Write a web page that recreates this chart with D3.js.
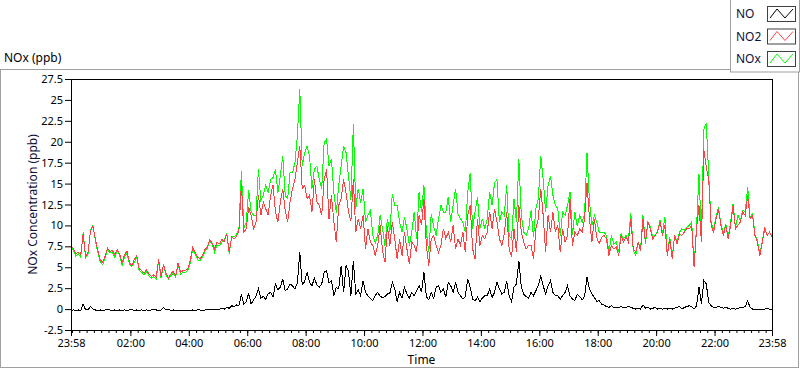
<!DOCTYPE html>
<html>
<head>
<meta charset="utf-8">
<script src="https://cdn.jsdelivr.net/npm/d3@7"></script>
<style>
body{margin:0;background:#fff}
svg{display:block;font-family:"Noto Sans",sans-serif}
</style>
</head>
<body>
<svg id="chart" width="800" height="369"></svg>
<script>
// 5-minute readings, 23:58 -> 23:58 (289 points)
const no2 = [
7.6,7.2,6.6,6.8,6.5,9.0,6.3,6.8,9.3,9.9,
8.4,7.0,5.9,5.6,6.3,7.3,6.9,7.0,6.5,7.1,
6.6,5.5,6.5,6.9,5.6,5.2,5.9,6.4,4.8,4.6,
4.3,4.7,4.2,3.9,4.1,3.8,6.0,3.9,5.3,4.3,
3.7,4.2,4.5,4.0,5.5,4.4,4.6,4.6,4.8,5.8,
7.4,6.8,6.2,6.0,6.4,7.1,7.4,8.3,
7.9,7.2,8.0,7.8,8.3,8.1,9.0,6.8,8.6,8.4,
8.7,9.4,15.0,9.2,9.6,12.2,11.2,9.6,10.4,13.6,
11.2,12.8,12.0,11.2,13.6,14.8,11.6,10.4,12.8,14.4,
11.8,10.4,12.8,14.4,15.5,17.5,19.5,14.4,14.8,13.2,
13.6,11.6,15.5,12.8,12.4,11.2,15.5,16.7,10.8,13.6,
10.4,8.0,12.4,13.2,15.5,13.9,11.6,10.5,
15.5,9.2,10.8,9.6,11.2,7.2,9.6,8.0,7.6,6.4,
7.6,10.0,7.0,5.6,9.9,7.6,10.4,8.4,6.0,8.4,
6.4,9.2,7.2,5.4,8.0,7.6,6.8,11.2,10.0,13.2,
7.6,5.2,8.4,8.8,7.6,6.8,7.6,9.6,8.4,9.2,
8.0,10.0,7.2,8.4,7.6,9.2,6.8,11.2,12.4,7.2,
6.0,10.8,7.6,8.8,8.4,9.2,11.6,
9.6,12.0,10.4,8.4,7.6,9.0,11.6,7.2,6.2,9.6,
6.8,12.4,9.2,8.0,7.2,7.6,7.6,6.0,9.6,10.8,
14.4,11.2,6.8,11.2,9.2,11.6,9.2,10.0,6.8,9.6,
8.0,8.8,13.2,7.6,9.2,8.8,9.6,9.2,10.8,15.1,
10.8,8.0,10.8,8.6,7.8,8.6,8.8,8.4,6.4,7.6,
7.2,7.4,6.4,8.8,8.0,8.6,8.0,10.8,
7.2,6.8,8.0,7.0,10.8,8.0,10.4,9.6,8.4,8.8,
9.2,10.4,8.8,10.0,6.4,8.4,6.0,8.8,7.8,9.0,
8.8,9.2,9.6,9.6,10.0,5.0,9.6,12.4,8.0,19.1,
17.0,15.5,10.0,9.2,10.8,12.0,10.0,8.8,10.0,8.4,
10.0,12.4,9.6,10.0,10.4,11.6,11.2,13.6,10.8,11.2,
8.8,8.0,6.4,8.0,9.6,8.8,9.2,8.6
]

const nox = [
7.4,7.0,6.3,6.6,6.2,9.2,6.1,6.6,9.4,10.0,
8.2,6.8,5.7,5.3,6.1,7.2,6.7,6.8,6.2,7.0,
6.4,5.2,6.3,6.7,5.4,5.1,5.6,6.2,4.6,4.4,
4.1,4.5,4.0,3.7,3.9,3.6,5.8,3.7,5.4,4.1,
3.6,4.0,4.3,3.8,5.3,4.2,4.4,4.4,4.6,5.5,
7.2,6.6,5.9,5.8,6.2,6.9,7.3,8.1,
7.8,6.8,7.6,7.6,8.0,8.2,9.1,6.6,8.7,8.6,
8.9,9.6,16.5,9.7,10.4,14.2,11.6,11.2,11.2,16.7,
13.0,13.6,14.8,13.9,15.5,15.7,16.7,13.9,15.9,18.3,
13.6,13.2,16.3,16.3,17.5,20.7,26.3,17.1,18.7,19.5,
18.3,14.4,16.7,17.1,15.5,14.4,19.9,20.3,17.1,17.9,
13.9,11.5,14.8,17.1,19.5,18.7,15.9,13.0,
22.1,12.0,14.4,12.7,14.4,10.4,11.2,11.8,8.8,7.9,
8.8,11.2,9.6,7.6,10.8,9.2,13.8,12.4,12.4,10.4,
9.2,11.0,9.6,7.6,9.2,11.6,8.4,14.0,11.6,14.8,
9.2,6.8,11.4,9.9,8.8,10.8,12.4,11.6,11.6,13.4,
10.4,12.4,14.4,11.4,10.8,10.4,9.2,14.0,16.3,9.6,
11.6,13.4,9.6,10.8,9.6,10.8,14.0,
12.4,15.1,15.5,10.4,11.6,11.2,14.8,8.8,8.4,13.2,
10.4,17.9,11.2,9.2,8.8,9.6,11.8,8.6,12.0,13.2,
18.3,15.5,11.6,14.8,15.9,13.6,12.4,12.0,8.8,11.6,
11.2,12.4,14.0,8.8,11.6,9.9,11.2,10.4,11.4,18.7,
12.8,10.0,11.2,10.4,9.2,9.2,9.2,8.8,6.8,8.8,
7.8,8.0,6.8,9.0,8.4,8.8,8.2,11.5,
7.0,6.4,8.0,7.2,11.2,7.8,10.4,9.8,8.6,8.8,
9.4,10.6,9.0,11.0,6.6,8.6,6.2,8.8,8.0,9.2,
9.6,9.4,9.8,10.0,10.4,5.2,9.8,16.1,8.8,21.5,
22.2,16.0,10.2,9.6,11.0,12.2,10.2,9.0,10.2,8.6,
10.4,12.6,9.8,11.2,10.6,11.8,11.6,14.6,11.0,11.4,
8.9,8.2,6.6,8.0,9.8,8.8,9.2,8.8
]

const no = [
-0.2,-0.1,-0.2,-0.1,-0.2,0.6,-0.1,-0.1,0.3,0.0,
-0.1,-0.2,-0.1,-0.2,-0.1,0.0,-0.1,-0.2,-0.1,-0.2,
-0.1,-0.2,-0.1,-0.2,-0.1,0.0,-0.2,-0.1,-0.2,-0.1,
-0.2,-0.1,-0.2,-0.1,0.0,-0.1,-0.2,-0.1,0.2,-0.1,
0.0,-0.2,-0.1,-0.2,-0.1,-0.2,-0.1,-0.2,-0.1,-0.2,
-0.1,-0.2,-0.1,-0.1,-0.2,-0.1,0.0,-0.1,
-0.1,0.0,-0.1,0.0,0.1,0.0,0.2,0.1,0.4,0.3,
0.5,0.4,1.8,0.6,0.9,1.9,0.6,1.1,1.5,2.4,
1.3,1.5,1.2,1.8,2.0,1.4,3.0,2.3,2.6,3.6,
2.2,2.4,3.0,2.8,2.4,3.1,6.8,2.9,3.3,4.4,
3.2,2.8,3.7,2.9,2.6,3.0,4.4,4.6,3.1,3.4,
1.6,2.6,2.4,5.2,2.0,5.2,4.5,1.6,
5.8,1.8,2.3,1.6,3.4,2.0,1.6,1.3,1.0,1.6,
2.0,1.5,1.4,1.5,1.8,1.9,3.2,2.4,0.9,2.0,
1.3,2.6,1.8,1.3,2.0,1.6,2.2,2.8,2.0,4.4,
1.5,1.1,2.0,1.3,2.6,2.8,2.0,2.4,1.4,3.2,
2.8,2.0,3.2,2.0,1.6,1.2,1.5,3.6,2.6,1.2,
1.0,1.4,0.9,1.3,1.6,1.6,2.4,
1.4,2.0,3.2,2.4,1.8,2.0,3.4,1.6,0.9,2.6,
3.0,5.8,2.6,1.8,1.5,1.3,2.0,1.6,2.2,2.8,
4.0,2.8,1.8,2.8,3.4,2.0,1.6,1.6,1.2,1.6,
2.0,2.8,1.6,1.2,1.0,1.8,1.5,1.1,1.5,3.8,
2.4,1.8,1.4,0.9,1.0,0.6,0.5,0.3,0.2,0.4,
0.2,0.2,0.2,0.3,0.2,0.2,0.3,0.2,
0.1,0.0,0.1,0.0,0.5,0.1,0.2,0.0,0.1,0.2,
0.0,0.1,0.0,0.1,0.0,0.1,0.0,0.1,0.2,0.3,
0.0,0.2,0.3,0.4,0.3,0.0,0.4,2.6,0.6,3.4,
3.0,0.8,0.4,0.2,0.2,0.3,0.2,0.1,0.2,0.1,
0.0,0.1,0.0,0.1,0.2,0.2,0.3,1.0,0.2,0.0,
0.0,0.0,-0.1,0.0,0.0,0.1,0.0,-0.1
]

const seriesNames = ["NO", "NO2", "NOx"]
const seriesColors = ["#000000", "#ff4040", "#00ff00"]
const yTicks = [-2.5, 0, 2.5, 5, 7.5, 10, 12.5, 15, 17.5, 20, 22.5, 25, 27.5]
const xTickLabels = ["23:58","02:00","04:00","06:00","08:00","10:00","12:00","14:00","16:00","18:00","20:00","22:00","23:58"]

const t0 = new Date(2021, 0, 1, 23, 58)
const t1 = new Date(2021, 0, 2, 23, 58)
const stepMin = 5
const timeAt = i => new Date(t0.getTime() + i*stepMin*60000)

const plot = {left: 71, top: 79, right: 772, bottom: 330}

const svg = d3.select("#chart")

// outer frame
svg.append("rect")
    .attr("x", 0.5).attr("y", 69.5)
    .attr("width", 798).attr("height", 298)
    .attr("fill", "#fff")
    .attr("stroke", "#a0a0a0")

svg.append("text")
    .attr("x", 4).attr("y", 62)
    .attr("font-size", 12)
    .text("NOx (ppb)")

const x = d3.scaleTime().domain([t0, t1]).range([plot.left, plot.right])
const y = d3.scaleLinear().domain([-2.5, 27.5]).range([plot.bottom, plot.top])

const majorDates = xTickLabels.map((lab, i) => {
    if (i === 0) return t0
    if (i === xTickLabels.length - 1) return t1
    const [hh, mm] = lab.split(":").map(Number)
    return new Date(2021, 0, 2, hh, mm)
})

// plot border
svg.append("rect")
    .attr("x", plot.left + 0.5).attr("y", plot.top + 0.5)
    .attr("width", plot.right - plot.left).attr("height", plot.bottom - plot.top)
    .attr("fill", "#fff")
    .attr("stroke", "#000")

// minor x ticks
svg.append("g")
    .attr("transform", `translate(0,${plot.bottom})`)
    .call(d3.axisBottom(x)
        .tickValues(d3.timeMinute.every(15).range(t0, t1))
        .tickSize(3).tickFormat(""))
    .call(g => g.select(".domain").remove())

const xAxis = svg.append("g")
    .attr("transform", `translate(0,${plot.bottom})`)
    .call(d3.axisBottom(x)
        .tickValues(majorDates)
        .tickSize(6).tickPadding(3)
        .tickFormat((d, i) => xTickLabels[i]))
xAxis.select(".domain").remove()
xAxis.selectAll("text").attr("font-size", 11).attr("fill", "#000").attr("font-family", "Noto Sans")

const yAxis = svg.append("g")
    .attr("transform", `translate(${plot.left},0)`)
    .call(d3.axisLeft(y)
        .tickValues(yTicks)
        .tickSize(6).tickPadding(2)
        .tickFormat(d => String(d)))
yAxis.select(".domain").remove()
yAxis.selectAll("text").attr("font-size", 11).attr("fill", "#000").attr("font-family", "Noto Sans")

svg.append("text")
    .attr("transform", `translate(37,${(plot.top + plot.bottom)/2}) rotate(-90)`)
    .attr("text-anchor", "middle")
    .attr("font-size", 12)
    .attr("fill", "#10103a")
    .text("NOx Concentration (ppb)")

svg.append("text")
    .attr("x", (plot.left + plot.right)/2).attr("y", 364)
    .attr("text-anchor", "middle")
    .attr("font-size", 12)
    .text("Time")

const line = d3.line()
    .x((d, i) => x(timeAt(i)))
    .y(d => y(d))

const clip = svg.append("clipPath").attr("id", "clip")
    .append("rect")
    .attr("x", plot.left + 1).attr("y", plot.top + 1)
    .attr("width", plot.right - plot.left - 1).attr("height", plot.bottom - plot.top - 1)

const plots = svg.append("g").attr("clip-path", "url(#clip)")
const drawOrder = [[nox, 2], [no2, 1], [no, 0]]
drawOrder.forEach(([vals, k]) => {
    plots.append("path")
        .datum(vals)
        .attr("d", line)
        .attr("fill", "none")
        .attr("stroke", seriesColors[k])
        .attr("stroke-width", 1)
        .attr("shape-rendering", "crispEdges")
})

// legend
const legend = svg.append("g").attr("transform", "translate(730,0)")
legend.append("rect")
    .attr("x", 0.5).attr("y", -1)
    .attr("width", 69).attr("height", 73)
    .attr("fill", "#fff")
    .attr("stroke", "#a0a0a0")

const items = legend.selectAll(".item")
    .data(seriesNames)
    .enter()
    .append("g")
    .attr("transform", (d, i) => `translate(0,${6 + i*22.5})`)

items.append("text")
    .attr("x", 6).attr("y", 12)
    .attr("font-size", 12)
    .attr("fill", "#10103a")
    .text(d => d)

items.append("rect")
    .attr("x", 37.5).attr("y", 0.5)
    .attr("width", 28).attr("height", 15)
    .attr("fill", "#fff")
    .attr("stroke", "#404040")

items.append("polyline")
    .attr("points", "40,12 47,3 55,12 63,3")
    .attr("fill", "none")
    .attr("stroke", (d, i) => seriesColors[i])
    .attr("stroke-width", 1)
</script>
</body>
</html>
